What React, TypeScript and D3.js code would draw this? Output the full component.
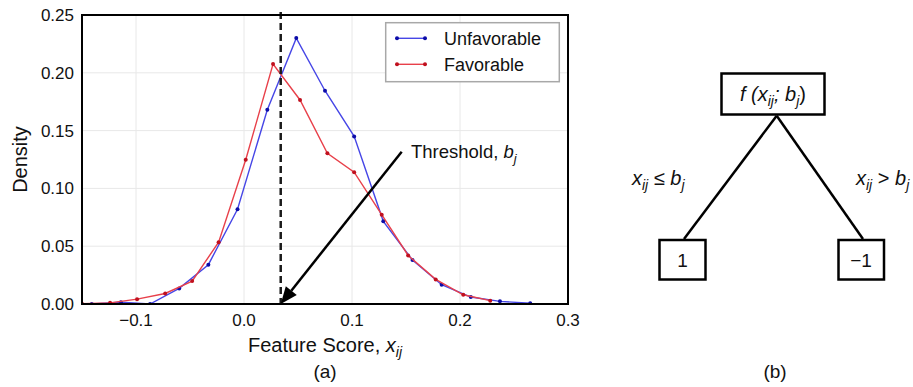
import React from "react";
import * as d3 from "d3";

const unfavX = [-0.141, -0.114, -0.087, -0.06, -0.033, -0.006, 0.0216, 0.0484, 0.075, 0.102, 0.129, 0.156, 0.183, 0.21, 0.237, 0.265];
const unfavY = [0, 0.0015, 0, 0.0135, 0.034, 0.082, 0.168, 0.23, 0.1845, 0.145, 0.0715, 0.038, 0.0167, 0.006, 0.0023, 0.0006];
const favX = [-0.15, -0.124, -0.099, -0.073, -0.048, -0.0235, 0.0016, 0.0269, 0.0519, 0.0772, 0.102, 0.1275, 0.152, 0.1775, 0.203, 0.228];
const favY = [0.0003, 0.001, 0.0042, 0.0091, 0.0198, 0.0535, 0.1248, 0.2076, 0.1765, 0.1303, 0.114, 0.0773, 0.042, 0.0213, 0.008, 0.0029];
const xTicks = [-0.1, 0, 0.1, 0.2, 0.3];
const xTickLabels = ["\u22120.1", "0.0", "0.1", "0.2", "0.3"];
const yTicks = [0, 0.05, 0.1, 0.15, 0.2, 0.25];
const yTickLabels = ["0.00", "0.05", "0.10", "0.15", "0.20", "0.25"];
const thresholdValue = 0.034;
const seriesNames = ["Unfavorable", "Favorable"];

const FONT = "'Liberation Sans', Arial, Helvetica, sans-serif";

export default function App() {
  const W = 913, H = 387;
  const L = 82, R = 568, T = 15, B = 304;
  const x = d3.scaleLinear().domain([-0.15, 0.3]).range([L, R]);
  const y = d3.scaleLinear().domain([0, 0.25]).range([B, T]);
  const line = d3.line<[number, number]>().x(d => x(d[0])).y(d => y(d[1]));
  const unfav: [number, number][] = unfavX.map((v, i) => [v, unfavY[i]]);
  const fav: [number, number][] = favX.map((v, i) => [v, favY[i]]);
  const blueLine = "#4646e6", blueDot = "#0c0ca8";
  const redLine = "#e8404a", redDot = "#c0101e";

  const tx = x(thresholdValue);
  // arrow
  const ax0 = 401.7, ay0 = 151.7, ax1 = tx, ay1 = B;
  const ang = Math.atan2(ay1 - ay0, ax1 - ax0);
  const hl = 17, hw = 7;
  const bx = ax1 - hl * Math.cos(ang), by = ay1 - hl * Math.sin(ang);
  const px = -Math.sin(ang), py = Math.cos(ang);
  const head = `M${ax1},${ay1} L${bx + hw * px},${by + hw * py} L${bx - hw * px},${by - hw * py} Z`;

  return (
    <svg width={W} height={H} style={{ position: "absolute", left: 0, top: 0, background: "#fff" }} fontFamily={FONT}>
      <defs>
        <clipPath id="plotclip">
          <rect x={L} y={T} width={R - L} height={B - T} />
        </clipPath>
      </defs>
      {/* grid */}
      {xTicks.slice(0, 4).map((t, i) => (
        <line key={"gx" + i} x1={x(t)} x2={x(t)} y1={T} y2={B} stroke="#e8e8e8" strokeWidth={1} />
      ))}
      {yTicks.slice(1, 5).map((t, i) => (
        <line key={"gy" + i} x1={L} x2={R} y1={y(t)} y2={y(t)} stroke="#e8e8e8" strokeWidth={1} />
      ))}
      <g clipPath="url(#plotclip)">
        <path d={line(unfav) || ""} fill="none" stroke={blueLine} strokeWidth={1.4} />
        {unfav.map((d, i) => <circle key={"u" + i} cx={x(d[0])} cy={y(d[1])} r={2} fill={blueDot} />)}
        <path d={line(fav) || ""} fill="none" stroke={redLine} strokeWidth={1.4} />
        {fav.map((d, i) => <circle key={"f" + i} cx={x(d[0])} cy={y(d[1])} r={2} fill={redDot} />)}
      </g>
      {/* threshold dashed line */}
      <line x1={tx} x2={tx} y1={T - 3} y2={B} stroke="#1a1a1a" strokeWidth={2.5} strokeDasharray="7,4" />
      {/* frame */}
      <rect x={L} y={T} width={R - L} height={B - T} fill="none" stroke="#000" strokeWidth={2} />
      {/* arrow */}
      <line x1={ax0} y1={ay0} x2={bx} y2={by} stroke="#000" strokeWidth={2.5} />
      <path d={head} fill="#000" />
      <text x={411} y={158} fontSize={18.5} fill="#111">
        Threshold, <tspan fontStyle="italic">b</tspan>
        <tspan fontStyle="italic" fontSize={13} dy={5}>j</tspan>
      </text>
      {/* ticks */}
      {xTicks.map((t, i) => (
        <text key={"xt" + i} x={x(t)} y={326} fontSize={17} textAnchor="middle" fill="#111">{xTickLabels[i]}</text>
      ))}
      {yTicks.map((t, i) => (
        <text key={"yt" + i} x={74} y={y(t) + 6} fontSize={17} textAnchor="end" fill="#111">{yTickLabels[i]}</text>
      ))}
      {/* axis labels */}
      <text x={(L + R) / 2} y={352} fontSize={20} textAnchor="middle" fill="#111">
        Feature Score, <tspan fontStyle="italic">x</tspan>
        <tspan fontStyle="italic" fontSize={14} dy={5}>ij</tspan>
      </text>
      <text transform={`translate(27,${(T + B) / 2}) rotate(-90)`} fontSize={20} textAnchor="middle" fill="#111">Density</text>
      <text x={(L + R) / 2} y={378} fontSize={19} textAnchor="middle" fill="#111">(a)</text>
      {/* legend */}
      <rect x={385.7} y={22.7} width={173.6} height={59} fill="#fff" stroke="#a8a8a8" strokeWidth={1.5} />
      {[0, 1].map(i => {
        const ly = i === 0 ? 38.3 : 64.3;
        const c = i === 0 ? blueLine : redLine;
        const dc = i === 0 ? blueDot : redDot;
        return (
          <g key={"lg" + i}>
            <line x1={397} x2={425} y1={ly} y2={ly} stroke={c} strokeWidth={1.4} />
            <circle cx={397} cy={ly} r={2} fill={dc} />
            <circle cx={425} cy={ly} r={2} fill={dc} />
            <text x={444} y={ly + 6.5} fontSize={18} fill="#111">{seriesNames[i]}</text>
          </g>
        );
      })}
      {/* tree (b) */}
      <line x1={776.7} y1={115.7} x2={684} y2={239} stroke="#000" strokeWidth={2.5} />
      <line x1={776.7} y1={115.7} x2={863} y2={239} stroke="#000" strokeWidth={2.5} />
      <rect x={721.5} y={73.5} width={103} height={41} fill="#fff" stroke="#000" strokeWidth={2.5} />
      <text x={773} y={101} fontSize={20} textAnchor="middle" fontStyle="italic" fill="#111">
        f (x<tspan fontSize={14} dy={5}>ij</tspan><tspan dy={-5}>; b</tspan><tspan fontSize={14} dy={5}>j</tspan><tspan dy={-5} fontStyle="normal">)</tspan>
      </text>
      <rect x={659.5} y={240} width={46} height={39.5} fill="#fff" stroke="#000" strokeWidth={2.5} />
      <rect x={838.5} y={240} width={45.5} height={39.5} fill="#fff" stroke="#000" strokeWidth={2.5} />
      <text x={682.5} y={267} fontSize={19} textAnchor="middle" fill="#111">1</text>
      <text x={861} y={267} fontSize={19} textAnchor="middle" fill="#111">{"\u22121"}</text>
      <text x={632} y={185} fontSize={20} fontStyle="italic" fill="#111">
        x<tspan fontSize={14} dy={5}>ij</tspan><tspan dy={-5} fontStyle="normal">{" \u2264 "}</tspan>b<tspan fontSize={14} dy={5}>j</tspan>
      </text>
      <text x={856} y={185} fontSize={20} fontStyle="italic" fill="#111">
        x<tspan fontSize={14} dy={5}>ij</tspan><tspan dy={-5} fontStyle="normal">{" > "}</tspan>b<tspan fontSize={14} dy={5}>j</tspan>
      </text>
      <text x={775} y={378} fontSize={19} textAnchor="middle" fill="#111">(b)</text>
    </svg>
  );
}
